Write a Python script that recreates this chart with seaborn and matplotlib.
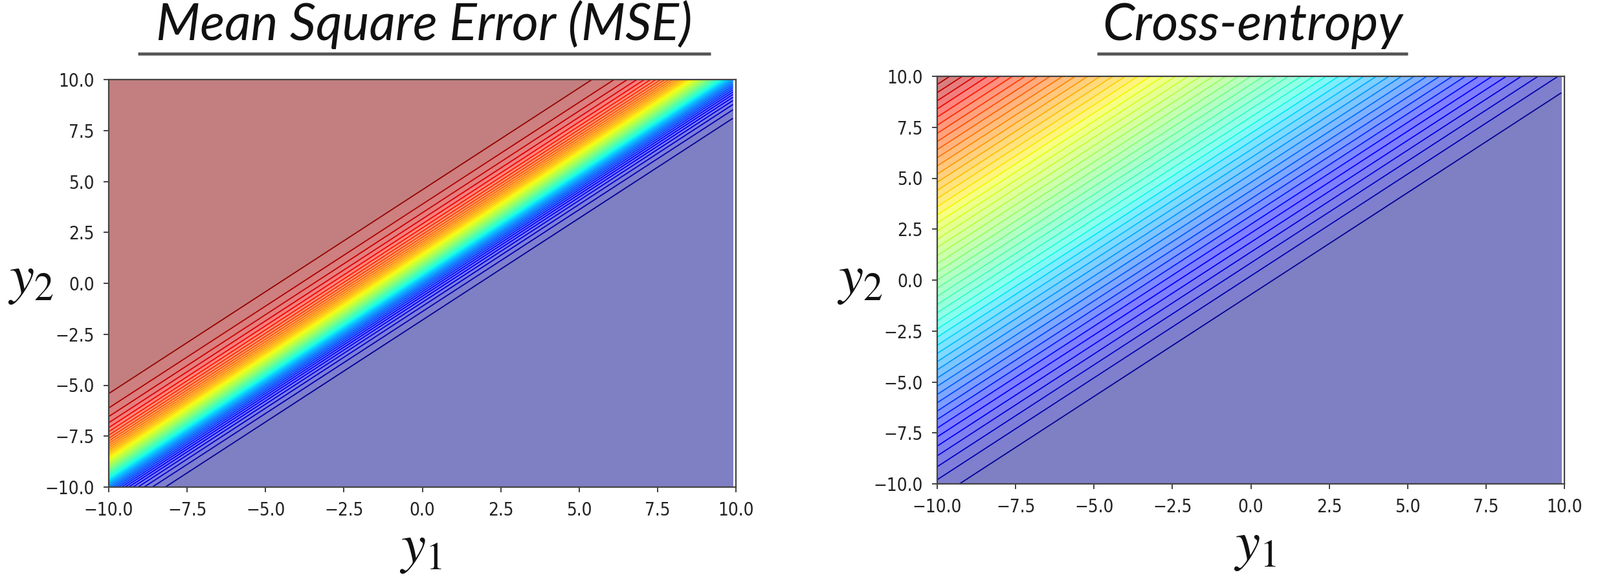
import numpy as np
import matplotlib
matplotlib.use("Agg")
import matplotlib.pyplot as plt
import seaborn as sns
from matplotlib import font_manager
from matplotlib.lines import Line2D

# ---------------- data / parameters ----------------
y1_range = [-10.0, 10.0]
y2_range = [-10.0, 10.0]
grid_step = 0.1
target = [1.0, 0.0]            # one-hot target (class 1)
n_levels = 50
titles = ["Mean Square Error (MSE)", "Cross-entropy"]
x_ticks = [-10.0, -7.5, -5.0, -2.5, 0.0, 2.5, 5.0, 7.5, 10.0]
y_ticks = [-10.0, -7.5, -5.0, -2.5, 0.0, 2.5, 5.0, 7.5, 10.0]
x_label = "$y_1$"
y_label = "$y_2$"

# ---------------- loss surfaces ----------------
y1_vals = np.arange(y1_range[0], y1_range[1], grid_step)
y2_vals = np.linspace(y2_range[0], y2_range[1],
                      int(round((y2_range[1] - y2_range[0]) / grid_step)) + 1)
Y1, Y2 = np.meshgrid(y1_vals, y2_vals)
m = np.maximum(Y1, Y2)
e1 = np.exp(Y1 - m)
e2 = np.exp(Y2 - m)
p1 = e1 / (e1 + e2)
p2 = e2 / (e1 + e2)
lse = m + np.log(e1 + e2)
mse = ((target[0] - p1) ** 2 + (target[1] - p2) ** 2) / 2.0
ce = target[0] * (lse - Y1) + target[1] * (lse - Y2)
surfaces = [mse, ce]

# ---------------- style ----------------
sns.set_theme(style="white")
plt.rcParams["font.family"] = ["DejaVu Sans"]
plt.rcParams["mathtext.fontset"] = "stix"

def pick_italic():
    names = {(f.name, f.style) for f in font_manager.fontManager.ttflist}
    for fam in ["Lato", "Open Sans", "Noto Sans", "Liberation Sans"]:
        if (fam, "italic") in names:
            return fam
    return "DejaVu Sans"

title_family = pick_italic()
jet = matplotlib.colormaps["jet"]

W, H = 2472, 892
fig = plt.figure(figsize=(W / 100, H / 100), dpi=100)

# axes rectangles in pixels: left, top, right, bottom
ax_px = [(168, 123, 1137, 753), (1448, 118, 2417, 748)]
ylab_px = [(47, 453), (1328, 453)]      # centre x, baseline y
xlab_px = [(650, 869), (1939, 865)]     # centre x, baseline y
underline_x = [(213, 1098), (1695, 2175)]
title_baseline_px = 62
underline_px = 83
title_target_width = 882

for i, (l, t, r, b) in enumerate(ax_px):
    ax = fig.add_axes([l / W, 1 - b / H, (r - l) / W, (b - t) / H])
    Z = surfaces[i]
    ax.contourf(Y1, Y2, Z, n_levels, cmap=jet, alpha=0.5)
    ax.contour(Y1, Y2, Z, n_levels, cmap=jet, linewidths=1.3)
    ax.set_xlim(y1_range)
    ax.set_ylim(y2_range)
    ax.set_xticks(x_ticks)
    ax.set_yticks(y_ticks)
    ax.set_xticklabels([f"{v:.1f}".replace("-", "\u2212") for v in x_ticks])
    ax.set_yticklabels([f"{v:.1f}".replace("-", "\u2212") for v in y_ticks])
    ax.tick_params(axis="both", direction="out", length=6, width=1.3,
                   pad=10, labelsize=20, colors="#333333", labelcolor="#222222",
                   bottom=True, left=True)
    for lab in ax.get_xticklabels() + ax.get_yticklabels():
        lab.set_fontstretch("condensed")
    for sp in ax.spines.values():
        sp.set_linewidth(1.6)
        sp.set_color("#444444")

    fig.text(ylab_px[i][0] / W, 1 - ylab_px[i][1] / H, y_label,
             fontsize=62, ha="center", va="baseline", color="#111111")
    fig.text(xlab_px[i][0] / W, 1 - xlab_px[i][1] / H, x_label,
             fontsize=62, ha="center", va="baseline", color="#111111")

# titles: size fitted (slightly under) to the reference width
fig.canvas.draw()
renderer = fig.canvas.get_renderer()
probe = fig.text(0, 0, titles[0], fontsize=50, family=title_family, style="italic")
w0 = probe.get_window_extent(renderer).width
probe.remove()
tsize = 0.94 * 50 * title_target_width / w0

for i in range(2):
    x0, x1 = underline_x[i]
    cx = (x0 + x1) / 2
    fig.text(cx / W, 1 - title_baseline_px / H, titles[i], fontsize=tsize,
             family=title_family, style="italic", ha="center",
             va="baseline", color="#111111")
    fig.add_artist(Line2D([x0 / W, x1 / W],
                          [1 - underline_px / H, 1 - underline_px / H],
                          transform=fig.transFigure, color="#555555",
                          linewidth=3.4, solid_capstyle="butt"))

fig.savefig("out.png", dpi=100)
